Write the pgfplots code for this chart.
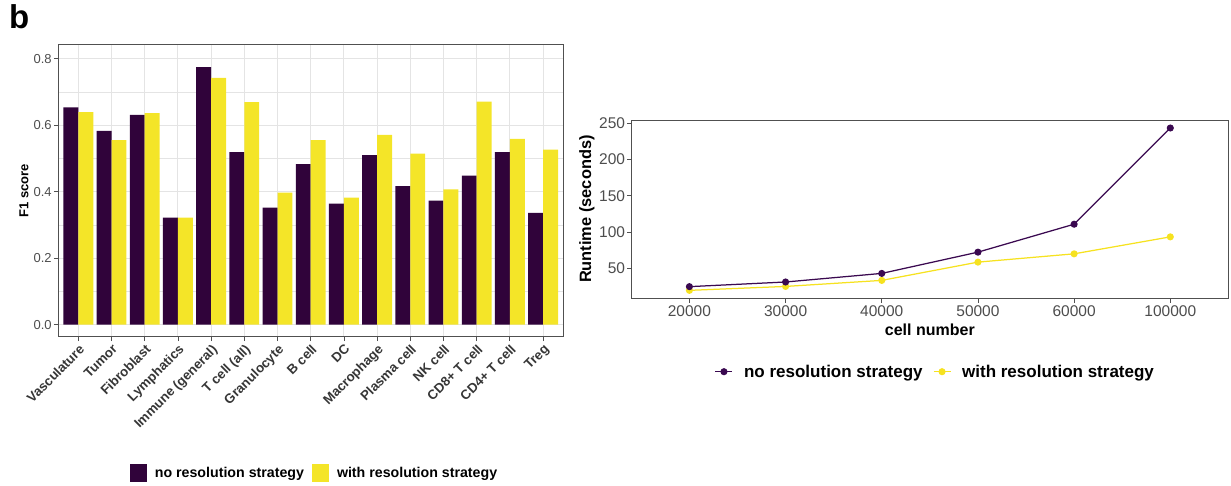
\documentclass[border=0pt]{standalone}
\usepackage{pgfplots}
\pgfplotsset{compat=1.18}
\usepackage{fontspec}
\setmainfont{Liberation Sans}

\definecolor{vdark}{HTML}{30033A}
\definecolor{vyellow}{HTML}{F4E528}
\definecolor{ldark}{HTML}{3A0950}
\definecolor{lyellow}{HTML}{F6E220}
\definecolor{gridc}{HTML}{E4E4E4}
\definecolor{border}{HTML}{505050}
\definecolor{ticklab}{HTML}{4D4D4D}
\definecolor{catlab}{HTML}{363636}

\newcommand{\fs}[1]{\fontsize{#1}{#1}\selectfont}

\begin{document}
\begin{tikzpicture}
\useasboundingbox (0pt,0pt) rectangle (1231pt,486pt);

\node[font=\fs{33}\bfseries, anchor=base west, inner sep=0pt] at (9pt,457pt) {b};

% ---- F1 score per cell type ----
\begin{axis}[
  at={(58.4pt,149.3pt)}, anchor=south west,
  scale only axis, width=504.6pt, height=292.4pt,
  xmin=0.4, xmax=15.6, ymin=-0.036, ymax=0.843,
  xtick={1,...,15},
  xticklabels={Vasculature,Tumor,Fibroblast,Lymphatics,Immune (general),T cell (all),Granulocyte,B cell,DC,Macrophage,Plasma cell,NK cell,CD8+ T cell,CD4+ T cell,Treg},
  ytick={0,0.2,0.4,0.6,0.8},
  yticklabels={0.0,0.2,0.4,0.6,0.8},
  minor ytick={0.1,0.3,0.5,0.7},
  grid=both,
  major grid style={color=gridc, line width=1.1pt},
  minor grid style={color=gridc, line width=0.55pt},
  tick align=outside, major tick length=4.5pt, minor tick length=0pt,
  xtick pos=left, ytick pos=left,
  tick style={color=border, line width=0.8pt},
  axis line style={color=border, line width=0.8pt},
  xticklabel style={rotate=45, anchor=north east, font=\fs{13.3}\bfseries, text=catlab, inner sep=1.5pt},
  yticklabel style={font=\fs{13}, text=ticklab, inner sep=2pt},
  ylabel={F1 score},
  every axis y label/.style={at={(axis description cs:-0.068,0.5)}, rotate=90, anchor=center, font=\fs{13}\bfseries},
  legend columns=2,
  legend style={at={(axis description cs:0.5056,-0.4655)}, anchor=center, draw=none, fill=none,
    font=\fs{14.2}\bfseries, nodes={inner sep=0pt},
    /tikz/every odd column/.append style={column sep=7.7pt},
    /tikz/every even column/.append style={column sep=8pt}},
  legend image code/.code={\fill[#1] (0pt,-8.7pt) rectangle (17.3pt,8.7pt);},
]
\addplot[ybar, bar width=0.45, bar shift=-0.225, fill=vdark, draw=none] coordinates {
  (1,0.653) (2,0.583) (3,0.631) (4,0.322) (5,0.774) (6,0.519) (7,0.352) (8,0.483)
  (9,0.364) (10,0.510) (11,0.417) (12,0.373) (13,0.448) (14,0.519) (15,0.336)};
\addlegendentry{no resolution strategy}
\addplot[ybar, bar width=0.45, bar shift=0.225, fill=vyellow, draw=none] coordinates {
  (1,0.639) (2,0.555) (3,0.636) (4,0.322) (5,0.742) (6,0.669) (7,0.397) (8,0.555)
  (9,0.382) (10,0.571) (11,0.514) (12,0.407) (13,0.671) (14,0.559) (15,0.526)};
\addlegendentry{with resolution strategy}
\end{axis}

% ---- Runtime versus cell number ----
\begin{axis}[
  at={(631.7pt,187.7pt)}, anchor=south west,
  scale only axis, width=596.3pt, height=178.3pt,
  xmin=0.4, xmax=6.6, ymin=9, ymax=254,
  xtick={1,...,6},
  xticklabels={20000,30000,40000,50000,60000,100000},
  ytick={50,100,150,200,250},
  yticklabels={50,100,150,200,250},
  tick align=outside, major tick length=4.5pt,
  xtick pos=left, ytick pos=left,
  tick style={color=border, line width=0.8pt},
  axis line style={color=border, line width=0.8pt},
  xticklabel style={font=\fs{15.5}, text=ticklab, inner sep=2.5pt},
  yticklabel style={font=\fs{15.5}, text=ticklab, inner sep=2pt},
  xlabel={cell number},
  ylabel={Runtime (seconds)},
  every axis x label/.style={at={(axis description cs:0.5,-0.178)}, anchor=center, font=\fs{16}\bfseries},
  every axis y label/.style={at={(axis description cs:-0.075,0.5)}, rotate=90, anchor=center, font=\fs{16.4}\bfseries},
  legend columns=2, reverse legend,
  legend style={at={(axis description cs:0.5076,-0.4117)}, anchor=center, draw=none, fill=none,
    font=\fs{17}\bfseries, nodes={inner sep=0pt},
    /tikz/every odd column/.append style={column sep=11pt},
    /tikz/every even column/.append style={column sep=10.3pt}},
  legend image code/.code={\draw[#1, mark=none] (0pt,0pt) -- (17pt,0pt); \fill[#1] (8.5pt,0pt) circle (2.9pt);},
]
\addplot[color=lyellow, line width=1.25pt, mark=*, mark size=2.9pt, mark options={fill=lyellow, draw=none}] coordinates {
  (1,19.9) (2,25.3) (3,33.6) (4,58.7) (5,70.1) (6,93.4)};
\addlegendentry{with resolution strategy}
\addplot[color=ldark, line width=1.25pt, mark=*, mark size=2.9pt, mark options={fill=ldark, draw=none}] coordinates {
  (1,25.0) (2,31.4) (3,43.2) (4,72.4) (5,110.8) (6,243)};
\addlegendentry{no resolution strategy}
\end{axis}
\end{tikzpicture}
\end{document}
